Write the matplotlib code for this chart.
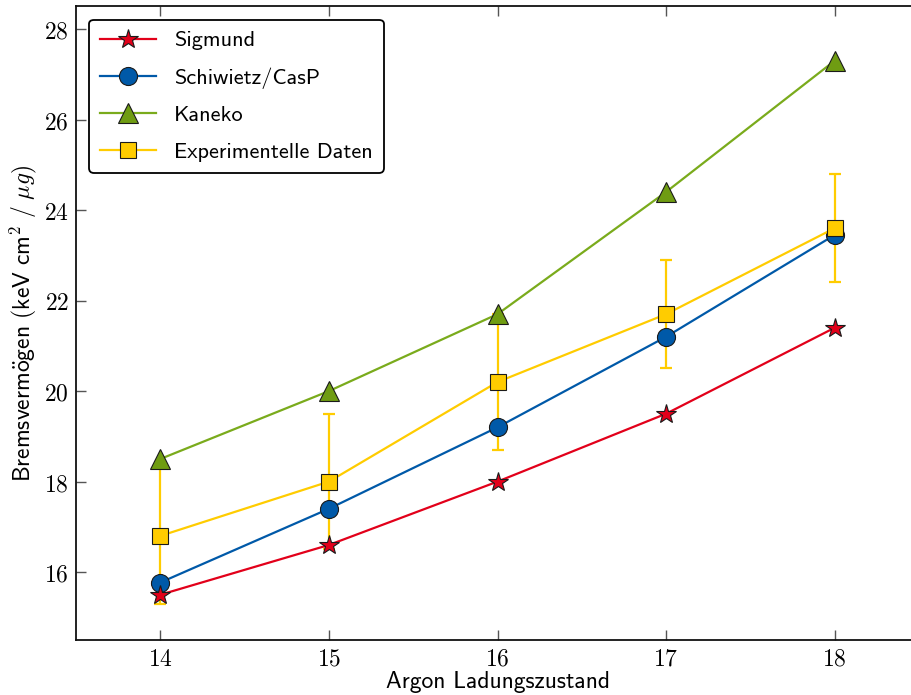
import matplotlib
matplotlib.use("Agg")
import matplotlib.pyplot as plt
from matplotlib.ticker import FuncFormatter

plt.rcParams["mathtext.fontset"] = "cm"
plt.rcParams["axes.unicode_minus"] = False

# Argon charge states and stopping powers (keV cm^2 / ug)
charge_states = [14, 15, 16, 17, 18]
sigmund = [15.5, 16.6, 18.0, 19.5, 21.4]
schiwietz = [15.77, 17.4, 19.2, 21.2, 23.45]
kaneko = [18.5, 20.0, 21.7, 24.4, 27.3]
experiment = [16.8, 18.0, 20.2, 21.7, 23.6]
experiment_err = [1.5, 1.5, 1.5, 1.2, 1.2]

x_ticks = [14, 15, 16, 17, 18]
y_ticks = [16, 18, 20, 22, 24, 26, 28]

red = "#e2001a"
blue = "#0059a8"
green = "#7aab1c"
green_fill = "#6f9c12"
yellow = "#ffcc00"
edge = "#1a1a1a"

sans = ["cmss10", "DejaVu Sans"]

fig = plt.figure(figsize=(9.11, 6.95), dpi=100)
ax = fig.add_axes([76 / 911, 55 / 695, 843 / 911, 633.6 / 695])

ax.errorbar(charge_states, experiment, yerr=experiment_err, fmt="none",
            ecolor=yellow, elinewidth=1.6, capsize=4.5, capthick=1.6, zorder=1)

ax.plot(charge_states, sigmund, "-", color=red, lw=1.6, marker="*", ms=15,
        mfc=red, mec=edge, mew=0.8, label="Sigmund", zorder=4)
ax.plot(charge_states, schiwietz, "-", color=blue, lw=1.6, marker="o", ms=13,
        mfc=blue, mec=edge, mew=0.8, label="Schiwietz/CasP", zorder=3)
ax.plot(charge_states, kaneko, "-", color=green, lw=1.6, marker="^", ms=14,
        mfc=green_fill, mec=edge, mew=0.8, label="Kaneko", zorder=3)
ax.plot(charge_states, experiment, "-", color=yellow, lw=1.6, marker="s", ms=12,
        mfc=yellow, mec=edge, mew=0.8, label="Experimentelle Daten", zorder=5)

ax.set_xlim(13.5, 18.5)
ax.set_ylim(14.5, 28.5)
ax.set_xticks(x_ticks)
ax.set_yticks(y_ticks)
fmt = FuncFormatter(lambda v, p: r"$%d$" % v)
ax.xaxis.set_major_formatter(fmt)
ax.yaxis.set_major_formatter(fmt)
ax.tick_params(direction="in", length=7, width=1, color="#555555",
               top=True, right=False, labelsize=17, pad=5)

for s in ax.spines.values():
    s.set_linewidth(1.3)
    s.set_color("#111111")

ax.set_xlabel("Argon Ladungszustand", family=sans, fontsize=17, labelpad=0)
ax.set_ylabel(r"$\mathsf{Bremsverm\ddot{o}gen\ (keV\ cm}^{2}\mathsf{\ /\ }\mu g\mathsf{)}$",
              fontsize=17, labelpad=4)

leg = ax.legend(loc="upper left", prop={"family": sans, "size": 16},
                frameon=True, fancybox=True, edgecolor="black",
                framealpha=1, borderpad=0.5, labelspacing=0.76,
                handlelength=2.5, handletextpad=0.8, borderaxespad=0.6)
leg.get_frame().set_linewidth(1.3)

fig.savefig("out.png", dpi=100)
